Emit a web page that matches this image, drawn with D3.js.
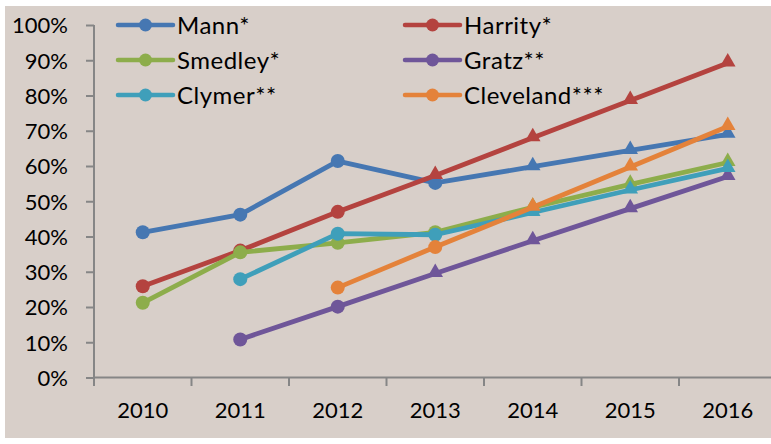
<!DOCTYPE html>
<html><head><meta charset="utf-8">
<script src="https://cdn.jsdelivr.net/npm/d3@7"></script>
<style>html,body{margin:0;padding:0;background:#fff;overflow:hidden}</style>
</head><body><svg id="c" width="771" height="444"></svg>
<script>
const years = ["2010","2011","2012","2013","2014","2015","2016"];
const seriesNames = ["Mann*","Harrity*","Smedley*","Gratz**","Clymer**","Cleveland***"];
const mann      = [41.2, 46.2, 61.4, 55.2, 59.8, 64.4, 69.0];
const harrity   = [25.9, 36.0, 47.0, 57.3, 68.0, 78.6, 89.2];
const smedley   = [21.2, 35.5, 38.2, 41.2, 48.3, 54.8, 61.0];
const gratz     = [null, 10.8, 20.1, 29.5, 38.8, 47.9, 57.0];
const clymer    = [null, 27.9, 40.8, 40.5, 46.8, 53.2, 59.3];
const cleveland = [null, null, 25.5, 37.0, 48.3, 59.7, 71.2];
const triangleFrom = ["2014","2013","2014","2013","2014","2014"];
const yTicks = [0,10,20,30,40,50,60,70,80,90,100];
const colors = ["#4677B2","#B4433F","#8DAD4B","#6F5699","#3F9FBA","#E4823A"];
const values = [mann, harrity, smedley, gratz, clymer, cleveland];

const svg = d3.select("#c");
const font = "Lato, 'Open Sans', sans-serif";
svg.append("rect").attr("x",5).attr("y",6).attr("width",800).attr("height",432).attr("fill","#D8CFC9");

const x = d3.scaleBand().domain(years).range([94, 94 + 7*97.5]);
const y = d3.scaleLinear().domain([0,100]).range([377.5, 25]);

// y axis
const ya = svg.append("g").attr("transform","translate(94,0)")
  .call(d3.axisLeft(y).tickValues(yTicks).tickSize(8).tickFormat(d=>d+"%"));
ya.select(".domain").attr("stroke","#868686").attr("stroke-width",2).attr("d","M0,25V377.5");
ya.selectAll(".tick line").attr("stroke","#868686").attr("stroke-width",2);
ya.selectAll(".tick text").attr("x",-26).attr("font-family",font).attr("font-size",22).attr("fill","#000").attr("dy","0.36em");

// x axis
const xa = svg.append("g").attr("transform","translate(0,377.5)")
  .call(d3.axisBottom(x).tickSize(0).tickPadding(24));
xa.select(".domain").remove();
xa.selectAll(".tick text").attr("font-family",font).attr("font-size",22).attr("fill","#000").attr("dy","0.71em").attr("y",25);
svg.append("line").attr("x1",94).attr("x2",94+7*97.5).attr("y1",377.5).attr("y2",377.5).attr("stroke","#868686").attr("stroke-width",2);
const bounds = years.map(d=>x(d)).concat([x(years[6])+x.bandwidth()]);
svg.append("g").selectAll("line").data(bounds).join("line")
  .attr("x1",d=>d).attr("x2",d=>d).attr("y1",377.5).attr("y2",386)
  .attr("stroke","#868686").attr("stroke-width",2);

const cx = d => x(d) + x.bandwidth()/2;
const line = d3.line().defined(d=>d.v!=null).x(d=>cx(d.year)).y(d=>y(d.v));
const tri = d3.symbol().type(d3.symbolTriangle).size(105);

values.forEach((vals,i)=>{
  const pts = years.map((yr,j)=>({year:yr, v:vals[j]}));
  const g = svg.append("g");
  g.append("path").attr("d",line(pts)).attr("fill","none").attr("stroke",colors[i])
    .attr("stroke-width",4.8).attr("stroke-linejoin","round");
  const defined = pts.filter(p=>p.v!=null);
  const tIdx = years.indexOf(triangleFrom[i]);
  defined.forEach(p=>{
    if (years.indexOf(p.year) >= tIdx) {
      g.append("path").attr("d",tri()).attr("transform",`translate(${cx(p.year)},${y(p.v)-1})`).attr("fill",colors[i]);
    } else {
      g.append("circle").attr("cx",cx(p.year)).attr("cy",y(p.v)).attr("r",7).attr("fill",colors[i]);
    }
  });
});

// legend
const legX = [118, 405], legY = [25, 60, 95];
seriesNames.forEach((n,i)=>{
  const col = i%2, row = Math.floor(i/2);
  const lx = legX[col], ly = legY[row];
  const g = svg.append("g");
  g.append("line").attr("x1",lx).attr("x2",lx+55).attr("y1",ly).attr("y2",ly).attr("stroke",colors[i]).attr("stroke-width",4.5).attr("stroke-linecap","round");
  g.append("circle").attr("cx",lx+27.5).attr("cy",ly).attr("r",6.5).attr("fill",colors[i]);
  g.append("text").attr("x",lx+59).attr("y",ly).attr("dy","0.36em").attr("font-family",font).attr("font-size",24).attr("letter-spacing","0.5px").attr("fill","#000").text(n);
});
</script></body></html>
